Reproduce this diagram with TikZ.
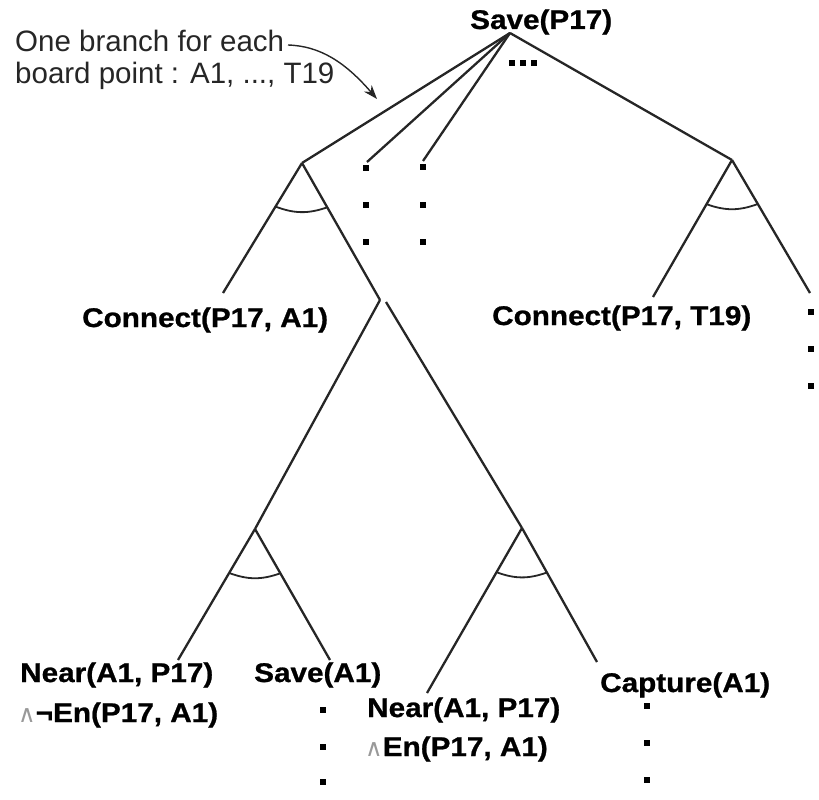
\documentclass[tikz,border=0pt]{standalone}
\usepackage{fontspec}
\setmainfont{Liberation Sans}
\newfontfamily\labfont[FakeStretch=1.1,FakeBold=0.9]{Liberation Sans}
\newfontfamily\symfont{DejaVu Sans}
\usetikzlibrary{calc,arrows.meta}
\newcommand\wedgesym{{\color{black!40}\symfont\mdseries\fontsize{24}{24}\selectfont ∧}}

\begin{document}
\begin{tikzpicture}[x=1pt,y=-1pt,
  branch/.style={draw=black!85,line width=2.3pt},
  andarc/.style={draw=black!85,line width=1.8pt},
  goal/.style={anchor=base west,inner sep=0pt,font=\labfont\bfseries\fontsize{27}{30}\selectfont},
  note/.style={anchor=base west,inner sep=0pt,text=black!85,font=\fontsize{29.5}{32}\selectfont},
  dotmark/.style={fill=black,inner sep=0pt,minimum size=5.5pt,rectangle},
  pointer/.style={line width=1.4pt,draw=black!85,-{Stealth[length=14pt,width=10pt]}}
]
\useasboundingbox (0,0) rectangle (819,800);

% ---- root goal ----
\node[goal] (root) at (470,29) {Save(P17)};
\coordinate (r) at (510,33);
\node[dotmark] (e1) at (512,63) {};
\node[dotmark] (e2) at (523,63) {};
\node[dotmark] (e3) at (534,63) {};

% ---- first level: one branch per board point ----
\coordinate (c1) at (302,163);
\coordinate (b2) at (367,162);
\coordinate (b3) at (423,161);
\coordinate (cT) at (732,160);
\draw[branch] (r) -- (c1);
\draw[branch] (r) -- (b2);
\draw[branch] (r) -- (b3);
\draw[branch] (r) -- (cT);

\node[dotmark] (d21) at (366,168) {};
\node[dotmark] (d22) at (366,205) {};
\node[dotmark] (d23) at (366,242) {};
\node[dotmark] (d31) at (423,167) {};
\node[dotmark] (d32) at (423,205) {};
\node[dotmark] (d33) at (423,242) {};

% ---- AND node for A1 ----
\coordinate (c1L) at (223,293);
\coordinate (m) at (380,300);
\draw[branch] (c1) -- (c1L);
\draw[branch] (c1) -- (m);
\draw[andarc] ($(c1)!51pt!(c1L)$) to[bend right=20] ($(c1)!51pt!(m)$);
\node[goal] (conA1) at (82,327) {Connect(P17, A1)};

% ---- AND node for T19 ----
\coordinate (cTL) at (653,297);
\coordinate (cTR) at (810,293);
\draw[branch] (cT) -- (cTL);
\draw[branch] (cT) -- (cTR);
\draw[andarc] ($(cT)!51pt!(cTL)$) to[bend right=20] ($(cT)!51pt!(cTR)$);
\node[goal] (conT19) at (492,325) {Connect(P17, T19)};
\node[dotmark] (t1) at (811,312) {};
\node[dotmark] (t2) at (811,349) {};
\node[dotmark] (t3) at (811,386) {};

% ---- OR node below the A1 branch ----
\coordinate (m2) at (386,302);
\coordinate (ll) at (255,529);
\coordinate (lr) at (522,528);
\draw[branch] (m) -- (ll);
\draw[branch] (m2) -- (lr);

% ---- lower left AND ----
\coordinate (llL) at (178,660);
\coordinate (llR) at (330,660);
\draw[branch] (ll) -- (llL);
\draw[branch] (ll) -- (llR);
\draw[andarc] ($(ll)!51pt!(llL)$) to[bend right=20] ($(ll)!51pt!(llR)$);
\node[goal] (nearL) at (20,682) {Near(A1, P17)};
\node[goal] (enL) at (18,722) {\wedgesym¬En(P17, A1)};
\node[goal] (saveA1) at (254,682) {Save(A1)};
\node[dotmark] (s1) at (323,710) {};
\node[dotmark] (s2) at (323,747) {};
\node[dotmark] (s3) at (323,782) {};

% ---- lower right AND ----
\coordinate (lrL) at (427,693);
\coordinate (lrR) at (597,662);
\draw[branch] (lr) -- (lrL);
\draw[branch] (lr) -- (lrR);
\draw[andarc] ($(lr)!51pt!(lrL)$) to[bend right=20] ($(lr)!51pt!(lrR)$);
\node[goal] (nearR) at (367,717) {Near(A1, P17)};
\node[goal] (enR) at (365,756) {\wedgesym En(P17, A1)};
\node[goal] (capA1) at (600,692) {Capture(A1)};
\node[dotmark] (k1) at (647,706) {};
\node[dotmark] (k2) at (647,743) {};
\node[dotmark] (k3) at (647,780) {};

% ---- annotation ----
\node[note] (n1) at (15,52) {One branch for each};
\node[note] (n2) at (15,83) {board point : A1, ..., T19};
\coordinate (ntail) at (288,45);
\coordinate (nhead) at (377,99);
\draw[pointer] (ntail) .. controls (320,46) and (345,62) .. (nhead);
\end{tikzpicture}
\end{document}
